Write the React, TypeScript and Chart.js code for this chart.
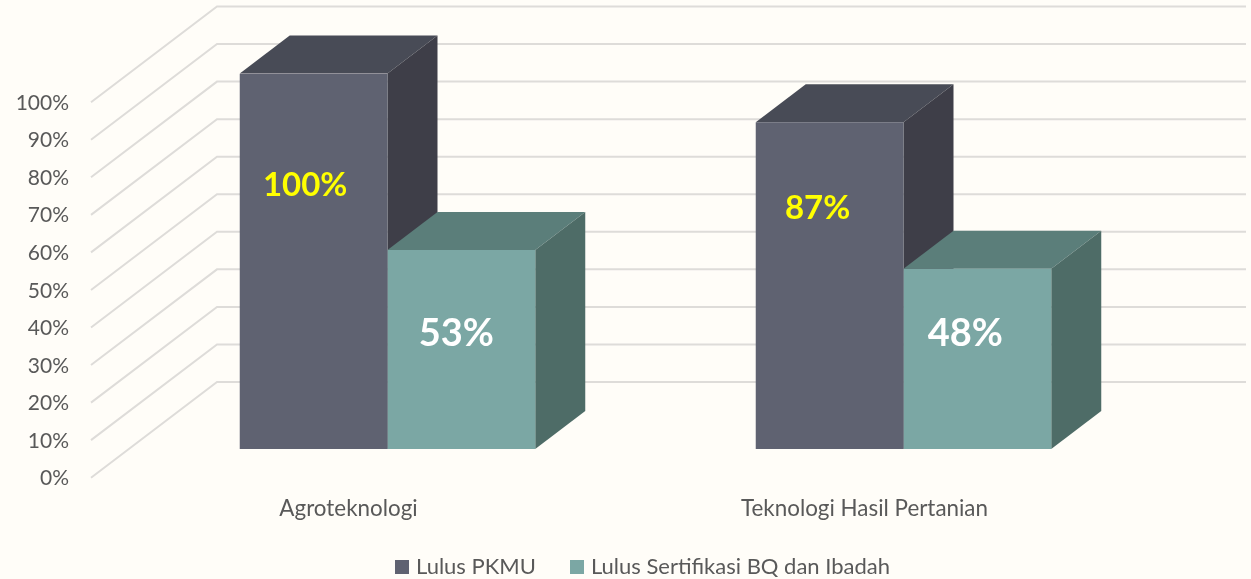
import React, { useEffect, useRef } from "react";
import { Chart, registerables } from "chart.js";

Chart.register(...registerables);

const categories = ["Agroteknologi", "Teknologi Hasil Pertanian"];
const seriesNames = ["Lulus PKMU", "Lulus Sertifikasi BQ dan Ibadah"];
const pkmuValues = [100, 87];
const bqValues = [53, 48];

const FONT = "Lato, Carlito, sans-serif";
const TEXT = "#595959";
const BG = "#fffdf8";
const GRID = "#dedcd9";
const FRONT = ["#5f6271", "#7ba7a4"];
const TOP = ["#484b56", "#5b7e7a"];
const SIDE = ["#3e3e48", "#4e6c67"];
const LABEL_COLORS = ["#ffff00", "#ffffff"];
const LABEL_SIZES = [33, 38];

const DEPTH_X = 50;
const DEPTH_Y = 38;

const scene3d = {
  id: "scene3d",
  beforeDraw(chart: any) {
    // x tick labels hang below the axis box, over the legend's blank top band
    const x = chart.scales.x;
    x.bottom = x.top + 85;
  },
  beforeDatasetsDraw(chart: any) {
    const { ctx, scales } = chart;
    const y = scales.y;
    ctx.save();
    ctx.strokeStyle = GRID;
    ctx.lineWidth = 2;
    for (const t of y.ticks) {
      const p = y.getPixelForValue(t.value);
      ctx.beginPath();
      ctx.moveTo(91, p + 28.7);
      ctx.lineTo(217, p - 67);
      ctx.lineTo(1246, p - 67);
      ctx.stroke();
    }
    chart.data.datasets.forEach((_: any, di: number) => {
      chart.getDatasetMeta(di).data.forEach((bar: any) => {
        const half = bar.width / 2;
        const l = bar.x - half;
        const r = bar.x + half;
        const t = bar.y;
        const b = bar.base;
        ctx.fillStyle = TOP[di];
        ctx.beginPath();
        ctx.moveTo(l, t);
        ctx.lineTo(l + DEPTH_X, t - DEPTH_Y);
        ctx.lineTo(r + DEPTH_X, t - DEPTH_Y);
        ctx.lineTo(r, t);
        ctx.closePath();
        ctx.fill();
        ctx.fillStyle = SIDE[di];
        ctx.beginPath();
        ctx.moveTo(r, t);
        ctx.lineTo(r + DEPTH_X, t - DEPTH_Y);
        ctx.lineTo(r + DEPTH_X, b - DEPTH_Y);
        ctx.lineTo(r, b);
        ctx.closePath();
        ctx.fill();
      });
    });
    ctx.restore();
  },
  afterDatasetsDraw(chart: any) {
    const { ctx } = chart;
    const shiftX = [[-8.5, -5], [-12, -12]];
    const shiftY = [[112, 84], [86, 65]];
    ctx.save();
    ctx.textAlign = "center";
    ctx.textBaseline = "middle";
    chart.data.datasets.forEach((ds: any, di: number) => {
      ctx.fillStyle = LABEL_COLORS[di];
      ctx.font = `bold ${LABEL_SIZES[di]}px ${FONT}`;
      chart.getDatasetMeta(di).data.forEach((bar: any, i: number) => {
        ctx.fillText(`${ds.data[i]}%`, bar.x + shiftX[i][di], bar.y + shiftY[i][di]);
      });
    });
    ctx.restore();
  },
};

function swatch(color: string) {
  const c = document.createElement("canvas");
  c.width = 14;
  c.height = 14;
  const g = c.getContext("2d")!;
  g.fillStyle = color;
  g.fillRect(0, 0, 14, 14);
  return c;
}

export default function App() {
  const ref = useRef<HTMLCanvasElement>(null);
  useEffect(() => {
    const chart = new Chart(ref.current!, {
      type: "bar",
      data: {
        labels: categories,
        datasets: [
          { label: seriesNames[0], data: pkmuValues, backgroundColor: FRONT[0] },
          { label: seriesNames[1], data: bqValues, backgroundColor: FRONT[1] },
        ],
      },
      plugins: [scene3d],
      options: {
        responsive: false,
        animation: false,
        categoryPercentage: 0.5727,
        barPercentage: 1,
        layout: { padding: { left: 0, right: -39, top: 73.5, bottom: -9 } },
        font: { family: FONT },
        scales: {
          x: {
            grid: { display: false, drawTicks: false },
            border: { display: false },
            ticks: {
              color: TEXT,
              font: { family: FONT, size: 22.4 },
              padding: 46,
              labelOffset: -39,
              maxRotation: 0,
            },
            afterFit(s: any) {
              s.height = 68;
            },
          },
          y: {
            min: 0,
            max: 100,
            grid: { display: false, drawTicks: false },
            border: { display: false },
            ticks: {
              stepSize: 10,
              color: TEXT,
              font: { family: FONT, size: 21 },
              padding: 60.5,
              labelOffset: 29.5,
              callback: (v: any) => `${v}%`,
            },
            afterFit(s: any) {
              s.width = 129.5;
            },
          },
          spacer: {
            position: "right",
            grid: { display: false, drawTicks: false },
            border: { display: false },
            ticks: { display: false },
            afterFit(s: any) {
              s.width = 128.5;
            },
          },
        },
        plugins: {
          tooltip: { enabled: false },
          legend: {
            position: "bottom",
            labels: {
              usePointStyle: true,
              boxWidth: 5,
              boxHeight: 14,
              padding: 39,
              color: TEXT,
              font: { family: FONT, size: 22 },
              generateLabels(c: any) {
                return Chart.defaults.plugins.legend.labels
                  .generateLabels(c)
                  .map((item: any, i: number) => ({ ...item, pointStyle: swatch(FRONT[i]) }));
              },
            },
          },
        },
      },
    } as any);
    return () => chart.destroy();
  }, []);
  return (
    <div style={{ position: "absolute", left: 0, top: 0, width: 1251, height: 579, background: BG }}>
      <canvas ref={ref} width={1251} height={579} style={{ display: "block" }} />
    </div>
  );
}
